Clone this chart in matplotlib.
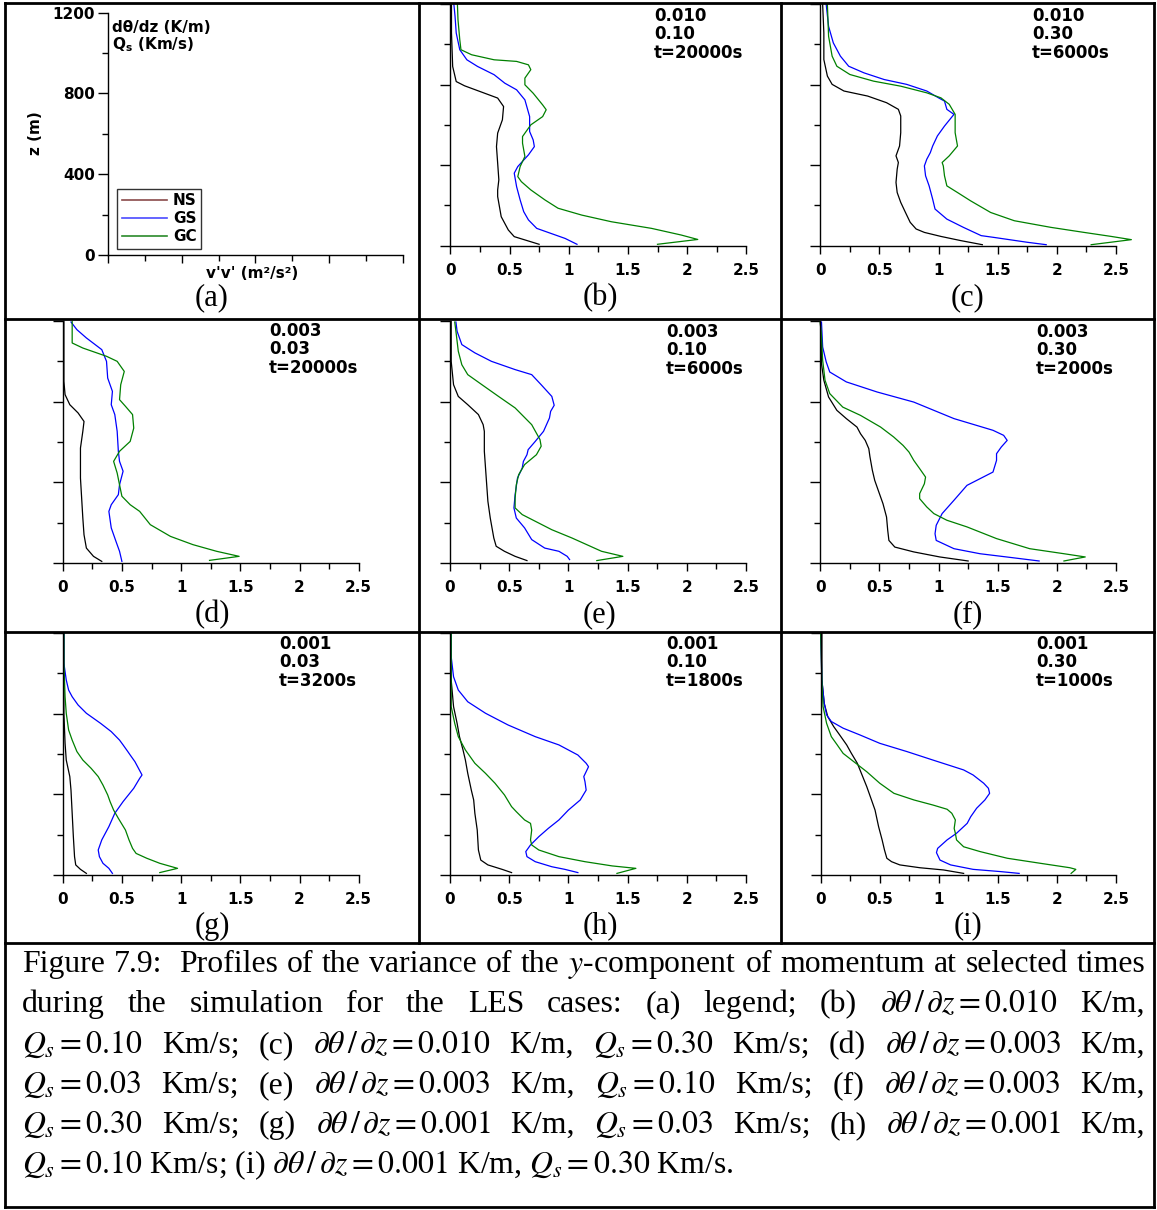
import matplotlib
matplotlib.use('Agg')
import matplotlib.pyplot as plt
import numpy as np
from matplotlib.lines import Line2D

plt.rcParams['font.family'] = ['DejaVu Sans']
plt.rcParams['font.weight'] = 'normal'
plt.rcParams['axes.linewidth'] = 1.0

# ---------------- data: (v'v' [m2/s2], z [m]) pairs, bottom to top ----------------
B_NS = [(0.75,7),(0.54,45),(0.49,78),(0.43,144),(0.40,244),(0.40,277),(0.41,327),(0.40,410),(0.39,492),
        (0.40,559),(0.44,625),(0.45,691),(0.40,733),(0.29,757),(0.12,794),(0.05,815),(0.02,890),(0.01,1056),(0.01,1200)]
B_GS = [(1.07,7),(0.97,36),(0.85,61),(0.73,86),(0.66,128),(0.62,169),(0.59,227),(0.56,293),(0.54,360),(0.57,393),
        (0.66,451),(0.71,492),(0.70,525),(0.67,567),(0.67,641),(0.63,724),(0.56,774),(0.46,807),(0.37,849),(0.23,890),
        (0.14,923),(0.08,973),(0.05,1056),(0.04,1139),(0.03,1200)]
B_GC = [(1.75,7),(2.09,31),(1.95,53),(1.70,86),(1.36,119),(1.11,152),(0.91,186),(0.80,227),(0.68,277),(0.60,318),
        (0.57,343),(0.59,393),(0.63,443),(0.61,509),(0.61,542),(0.68,600),(0.78,641),(0.81,675),(0.78,699),(0.70,757),
        (0.63,799),(0.63,832),(0.68,874),(0.66,898),(0.56,915),(0.37,923),(0.18,948),(0.09,973),(0.08,1023),(0.065,1122),(0.06,1200)]

C_NS = [(1.37,5),(1.19,25),(1.02,46),(0.88,66),(0.81,83),(0.76,116),(0.72,165),(0.68,215),(0.65,264),(0.64,314),
        (0.65,380),(0.66,413),(0.64,446),(0.67,495),(0.68,561),(0.68,644),(0.66,677),(0.56,710),(0.40,743),(0.20,768),
        (0.10,801),(0.06,842),(0.03,924),(0.03,1056),(0.02,1197)]
C_GS = [(1.91,5),(1.75,17),(1.47,41),(1.36,50),(1.21,91),(1.07,132),(0.97,182),(0.95,231),(0.92,297),(0.89,347),
        (0.88,396),(0.90,429),(0.93,462),(0.95,495),(0.99,545),(1.05,594),(1.13,652),(1.07,677),(1.05,718),(1.00,734),
        (0.90,768),(0.73,801),(0.54,825),(0.37,858),(0.24,891),(0.17,941),(0.11,1007),(0.07,1089),(0.05,1197)]
C_GC = [(2.29,5),(2.63,30),(2.46,46),(2.23,66),(1.95,91),(1.64,124),(1.44,165),(1.27,223),(1.16,264),(1.07,297),
        (1.05,347),(1.04,396),(1.03,413),(1.09,446),(1.16,495),(1.14,561),(1.14,611),(1.14,652),(1.09,702),(1.02,734),
        (0.90,759),(0.68,792),(0.45,817),(0.25,850),(0.14,891),(0.10,941),(0.07,1040),(0.06,1197)]

D_NS = [(0.33,8),(0.26,33),(0.20,74),(0.18,140),(0.17,223),(0.16,322),(0.15,421),(0.15,488),(0.15,570),(0.17,653),
        (0.18,702),(0.13,744),(0.06,785),(0.02,835),(0.01,901),(0.01,1050),(0.01,1198)]
D_GS = [(0.50,8),(0.48,58),(0.45,107),(0.41,174),(0.39,256),(0.41,289),(0.47,339),(0.48,388),(0.51,455),(0.48,504),
        (0.47,554),(0.46,653),(0.44,736),(0.41,785),(0.42,851),(0.38,917),(0.37,1000),(0.33,1058),(0.20,1116),(0.12,1157),(0.07,1195)]
D_GC = [(1.24,13),(1.49,33),(1.30,58),(1.10,91),(0.91,132),(0.74,190),(0.65,256),(0.57,289),(0.50,331),(0.48,388),
        (0.46,446),(0.43,504),(0.48,554),(0.57,603),(0.60,669),(0.59,736),(0.53,777),(0.48,810),(0.49,884),(0.52,950),
        (0.46,1000),(0.37,1025),(0.17,1066),(0.08,1091),(0.08,1149),(0.08,1198)]

E_NS = [(0.65,12),(0.55,33),(0.46,58),(0.39,83),(0.37,124),(0.34,223),(0.32,306),(0.31,388),(0.30,471),(0.29,554),
        (0.29,653),(0.28,686),(0.24,736),(0.15,785),(0.07,826),(0.03,884),(0.01,1000),(0.01,1198)]
E_GS = [(1.01,17),(0.99,33),(0.92,58),(0.80,74),(0.69,116),(0.63,174),(0.56,223),(0.54,273),(0.55,339),(0.57,421),
        (0.61,471),(0.62,504),(0.65,537),(0.66,562),(0.72,603),(0.79,653),(0.84,719),(0.85,752),(0.88,782),(0.86,826),
        (0.77,884),(0.69,934),(0.55,959),(0.35,1000),(0.21,1042),(0.10,1083),(0.06,1149),(0.05,1195)]
E_GC = [(1.24,12),(1.46,33),(1.28,58),(1.03,124),(0.86,165),(0.72,207),(0.61,240),(0.55,273),(0.55,322),(0.56,388),
        (0.58,438),(0.63,488),(0.73,537),(0.77,579),(0.76,612),(0.69,686),(0.55,769),(0.41,826),(0.27,884),(0.15,934),
        (0.10,983),(0.07,1050),(0.05,1149),(0.04,1195)]

F_NS = [(1.25,10),(1.01,30),(0.79,55),(0.63,79),(0.58,112),(0.57,162),(0.56,228),(0.53,294),(0.49,360),(0.46,410),
        (0.44,460),(0.42,526),(0.41,567),(0.38,608),(0.34,641),(0.31,674),(0.22,716),(0.14,757),(0.07,823),(0.03,906),
        (0.01,988),(0.01,1104),(0.00,1195)]
F_GS = [(1.85,10),(1.63,26),(1.35,46),(1.13,71),(0.98,112),(0.97,145),(0.98,187),(1.03,245),(1.13,311),(1.24,385),
        (1.35,418),(1.46,451),(1.49,509),(1.49,542),(1.53,575),(1.58,608),(1.55,633),(1.46,658),(1.13,716),(0.79,798),
        (0.48,848),(0.22,898),(0.08,947),(0.05,997),(0.02,1071),(0.01,1195)]
F_GC = [(2.06,10),(2.24,30),(2.06,46),(1.77,71),(1.49,121),(1.24,179),(1.07,212),(0.96,245),(0.90,278),(0.84,319),
        (0.84,344),(0.88,393),(0.89,426),(0.84,468),(0.79,509),(0.75,550),(0.70,583),(0.62,625),(0.51,674),(0.34,732),
        (0.19,773),(0.08,840),(0.04,906),(0.02,1005),(0.01,1120),(0.00,1195)]

G_NS = [(0.20,8),(0.15,28),(0.11,50),(0.10,91),(0.09,190),(0.08,306),(0.07,421),(0.06,488),(0.03,570),(0.02,653),
        (0.01,802),(0.01,1198)]
G_GS = [(0.42,8),(0.39,33),(0.34,58),(0.31,91),(0.30,124),(0.33,174),(0.39,240),(0.44,306),(0.51,364),(0.60,430),
        (0.65,479),(0.67,496),(0.64,529),(0.61,562),(0.57,595),(0.55,612),(0.51,645),(0.48,669),(0.41,711),(0.32,752),
        (0.20,802),(0.13,843),(0.08,884),(0.05,917),(0.03,967),(0.01,1050),(0.01,1198)]
G_GC = [(0.82,12),(0.97,33),(0.82,58),(0.71,83),(0.62,107),(0.59,132),(0.56,174),(0.53,223),(0.47,281),(0.43,322),
        (0.40,364),(0.38,397),(0.34,446),(0.30,488),(0.24,529),(0.17,570),(0.12,612),(0.08,669),(0.05,719),(0.03,802),
        (0.02,884),(0.01,1050),(0.01,1198)]

H_NS = [(0.52,12),(0.44,28),(0.32,50),(0.26,74),(0.24,124),(0.23,223),(0.21,306),(0.20,372),(0.18,421),(0.15,504),
        (0.13,570),(0.11,620),(0.08,686),(0.06,752),(0.03,835),(0.01,967),(0.01,1198)]
H_GS = [(1.08,12),(0.97,28),(0.86,41),(0.72,66),(0.65,91),(0.64,116),(0.68,149),(0.75,190),(0.83,231),(0.92,273),
        (1.00,322),(1.10,372),(1.15,421),(1.14,463),(1.13,488),(1.17,537),(1.15,554),(1.08,595),(0.92,645),(0.72,686),
        (0.49,744),(0.30,802),(0.15,859),(0.07,917),(0.03,983),(0.01,1083),(0.01,1198)]
H_GC = [(1.41,8),(1.57,33),(1.37,45),(1.14,66),(0.92,91),(0.75,124),(0.69,149),(0.68,174),(0.69,223),(0.68,256),
        (0.63,273),(0.56,314),(0.52,339),(0.46,397),(0.38,455),(0.30,504),(0.21,554),(0.13,620),(0.07,686),(0.04,752),
        (0.01,835),(0.01,967),(0.01,1198)]

I_NS = [(1.21,8),(1.04,25),(0.84,36),(0.67,50),(0.60,66),(0.56,83),(0.54,124),(0.52,174),(0.49,240),(0.46,322),
        (0.43,372),(0.39,438),(0.35,496),(0.31,554),(0.26,603),(0.22,645),(0.16,695),(0.11,736),(0.06,785),(0.03,851),
        (0.01,967),(0.01,1198)]
I_GS = [(1.68,8),(1.52,17),(1.29,28),(1.10,50),(1.01,74),(0.98,111),(0.99,132),(1.07,174),(1.15,207),(1.24,256),
        (1.27,289),(1.32,331),(1.39,372),(1.43,405),(1.42,430),(1.38,455),(1.29,496),(1.21,521),(0.95,570),(0.73,612),
        (0.50,653),(0.33,695),(0.19,728),(0.09,761),(0.05,794),(0.03,851),(0.01,967),(0.00,1198)]
I_GC = [(2.12,8),(2.16,28),(2.11,36),(1.86,58),(1.58,83),(1.35,116),(1.21,140),(1.15,174),(1.14,207),(1.13,231),
        (1.14,273),(1.11,306),(1.07,326),(0.95,347),(0.79,372),(0.62,405),(0.50,455),(0.39,512),(0.28,562),(0.19,603),
        (0.14,645),(0.09,686),(0.05,752),(0.02,835),(0.01,967),(0.00,1198)]

PANEL_IDS = ['b', 'c', 'd', 'e', 'f', 'g', 'h', 'i']
NS_SERIES = [B_NS, C_NS, D_NS, E_NS, F_NS, G_NS, H_NS, I_NS]
GS_SERIES = [B_GS, C_GS, D_GS, E_GS, F_GS, G_GS, H_GS, I_GS]
GC_SERIES = [B_GC, C_GC, D_GC, E_GC, F_GC, G_GC, H_GC, I_GC]
GRADIENTS = ['0.010', '0.010', '0.003', '0.003', '0.003', '0.001', '0.001', '0.001']
FLUXES = ['0.10', '0.30', '0.03', '0.10', '0.30', '0.03', '0.10', '0.30']
TIMES = ['t=20000s', 't=6000s', 't=20000s', 't=6000s', 't=2000s', 't=3200s', 't=1800s', 't=1000s']

SERIES_NAMES = ['NS', 'GS', 'GC']
X_TICKS = [0, 0.5, 1, 1.5, 2, 2.5]
X_TICK_LABELS = ['0', '0.5', '1', '1.5', '2', '2.5']
Z_TICKS = [0, 400, 800, 1200]
Z_TICK_LABELS = ['0', '400', '800', '1200']

# ---------------- styling / layout ----------------
COLORS = {'NS': 'black', 'GS': '#0000ff', 'GC': '#008000'}
LEGEND_COLORS = {'NS': '#8a4a4a', 'GS': '#4a4aff', 'GC': '#2a8a2a'}

W, H = 1157, 1210
fig = plt.figure(figsize=(W / 100, H / 100), dpi=100)

def fx(x):
    return x / W

def fy(y):
    return 1 - y / H

def add_ax(x0, x1, ytop, ybot):
    return fig.add_axes([fx(x0), fy(ybot), (x1 - x0) / W, (ybot - ytop) / H])

BOXES = {
    'a': (108, 403, 12.7, 255),
    'b': (450.3, 746.3, 4, 245.7),
    'c': (820.3, 1116.0, 4, 245.7),
    'd': (62.7, 358.7, 321, 563),
    'e': (450.0, 746.0, 321, 563),
    'f': (820.3, 1116.0, 321, 563),
    'g': (62.7, 358.7, 633, 875),
    'h': (450.0, 746.0, 633, 875),
    'i': (820.7, 1116.0, 633, 875),
}
ANNOT_POS = {'b': (654, 16), 'c': (1032, 16), 'd': (269, 331), 'e': (666, 332), 'f': (1036, 332),
             'g': (279, 644), 'h': (666, 644), 'i': (1036, 644)}

def style_axes(ax, xmax, xlabels):
    for s in ['top', 'right']:
        ax.spines[s].set_visible(False)
    ax.set_ylim(0, 1200)
    ax.set_xlim(0, xmax)
    ax.set_yticks(Z_TICKS)
    ax.set_yticks([200, 600, 1000], minor=True)
    if xmax == 2.5:
        ax.set_xticks(X_TICKS)
        ax.set_xticks([0.25, 0.75, 1.25, 1.75, 2.25], minor=True)
    else:
        ax.set_xticks([0, 0.5, 1, 1.5, 2])
        ax.set_xticks([0.25, 0.75, 1.25, 1.75], minor=True)
    if xlabels:
        ax.set_xticklabels(X_TICK_LABELS, fontweight='bold')
    else:
        ax.set_xticklabels([])
    ax.tick_params(axis='x', which='major', direction='out', length=6, width=1, pad=6.5, labelsize=11)
    ax.tick_params(axis='x', which='minor', direction='out', length=4, width=1)
    ax.tick_params(axis='y', which='major', direction='out', length=7.5, width=1, pad=2, labelsize=11)
    ax.tick_params(axis='y', which='minor', direction='out', length=4, width=1)
    ax.patch.set_visible(False)

# panel (a): legend panel
ax_a = add_ax(*BOXES['a'])
style_axes(ax_a, 2.0, False)
ax_a.set_yticklabels(Z_TICK_LABELS, fontweight='bold')
handles = [Line2D([], [], color=LEGEND_COLORS[n], lw=1.2) for n in SERIES_NAMES]
leg = ax_a.legend(handles, SERIES_NAMES, loc='lower left', bbox_to_anchor=(fx(117), fy(249)),
                  bbox_transform=fig.transFigure, borderaxespad=0, frameon=True, fancybox=False,
                  handlelength=3.0, handletextpad=0.35, labelspacing=0.2, borderpad=0.3,
                  prop={'weight': 'bold', 'size': 11})
leg.get_frame().set_edgecolor('black')
leg.get_frame().set_linewidth(1.0)
fig.text(fx(35), fy(133), 'z (m)', rotation=90, ha='center', va='center', fontsize=11, fontweight='bold')
fig.text(fx(252), fy(273), "v'v' (m\u00b2/s\u00b2)", ha='center', va='center', fontsize=11, fontweight='bold')
fig.text(fx(112), fy(27), 'd\u03b8/dz (K/m)', ha='left', va='center', fontsize=11, fontweight='bold')
fig.text(fx(112), fy(45), r'Q$_\mathbf{s}$ (Km/s)', ha='left', va='center', fontsize=11, fontweight='bold',
         math_fontfamily='dejavusans')

# data panels
for k, pid in enumerate(PANEL_IDS):
    ax = add_ax(*BOXES[pid])
    style_axes(ax, 2.5, True)
    ax.set_yticklabels([])
    for name, series in zip(SERIES_NAMES, [NS_SERIES[k], GS_SERIES[k], GC_SERIES[k]]):
        v = [p[0] for p in series]
        z = [p[1] for p in series]
        ax.plot(v, z, color=COLORS[name], lw=0.9, clip_on=False)
    x0, y0 = ANNOT_POS[pid]
    for j, s in enumerate([GRADIENTS[k], FLUXES[k], TIMES[k]]):
        fig.text(fx(x0), fy(y0 + 18.3 * j), s, ha='left', va='center', fontsize=12, fontweight='bold')

# panel letters
LETTER_POS = {'a': (212, 298), 'b': (600, 298), 'c': (968, 298),
              'd': (212, 615), 'e': (600, 615), 'f': (968, 615),
              'g': (212, 926), 'h': (600, 926), 'i': (968, 926)}
for pid, (x, y) in LETTER_POS.items():
    fig.text(fx(x), fy(y), '(%s)' % pid, ha='center', va='center', fontsize=22,
             family='Liberation Serif', fontweight='normal')

# table borders
BORDER_LW = 2.0
for y in [3, 319, 632, 943, 1207]:
    fig.add_artist(Line2D([fx(5), fx(1154)], [fy(y), fy(y)], color='black', lw=BORDER_LW))
for x in [5, 1154]:
    fig.add_artist(Line2D([fx(x), fx(x)], [fy(3), fy(1207)], color='black', lw=BORDER_LW))
for x in [419, 781]:
    fig.add_artist(Line2D([fx(x), fx(x)], [fy(3), fy(943)], color='black', lw=BORDER_LW))

# ---------------- caption (justified) ----------------
PD = r'\partial\theta\,/\,\partial z = '
CAPTION_LINES = [
    ['Figure', '7.9:', 'Profiles', 'of', 'the', 'variance', 'of', 'the', '$y$-component', 'of', 'momentum',
     'at', 'selected', 'times'],
    ['during', 'the', 'simulation', 'for', 'the', 'LES', 'cases:', '(a)', 'legend;', '(b)', '$' + PD + '0.010$', 'K/m,'],
    ['$Q_s = 0.10$', 'Km/s;', '(c)', '$' + PD + '0.010$', 'K/m,', '$Q_s = 0.30$', 'Km/s;', '(d)', '$' + PD + '0.003$', 'K/m,'],
    ['$Q_s = 0.03$', 'Km/s;', '(e)', '$' + PD + '0.003$', 'K/m,', '$Q_s = 0.10$', 'Km/s;', '(f)', '$' + PD + '0.003$', 'K/m,'],
    ['$Q_s = 0.30$', 'Km/s;', '(g)', '$' + PD + '0.001$', 'K/m,', '$Q_s = 0.03$', 'Km/s;', '(h)', '$' + PD + '0.001$', 'K/m,'],
]
LAST_LINE = r'$Q_s = 0.10$ Km/s; (i) $' + PD + r'0.001$ K/m, $Q_s = 0.30$ Km/s.'
CAP_BASELINES = [972, 1012, 1053, 1093, 1133, 1173]
CAP_LEFT, CAP_RIGHT = 22, 1145
CAP_KW = dict(family='Liberation Serif', fontweight='normal', math_fontfamily='stix')

renderer = fig.canvas.get_renderer()

def tw(s, fs):
    t = fig.text(0, 0, s, fontsize=fs, **CAP_KW)
    w = t.get_window_extent(renderer=renderer).width
    t.remove()
    return w

base_fs = 20
sp = tw('a a', base_fs) - tw('aa', base_fs)
nat = sum(tw(s, base_fs) for s in CAPTION_LINES[0]) + sp * (len(CAPTION_LINES[0]) + 1)
cap_fs = base_fs * (CAP_RIGHT - CAP_LEFT) / nat

for line, yb in zip(CAPTION_LINES, CAP_BASELINES):
    widths = [tw(s, cap_fs) for s in line]
    weights = [1.0] * (len(line) - 1)
    if line[0] == 'Figure':
        weights[1] = 2.0
    gap_unit = (CAP_RIGHT - CAP_LEFT - sum(widths)) / sum(weights)
    x = CAP_LEFT
    for i, (s, w) in enumerate(zip(line, widths)):
        fig.text(fx(x), fy(yb), s, ha='left', va='baseline', fontsize=cap_fs, **CAP_KW)
        if i < len(weights):
            x += w + gap_unit * weights[i]
fig.text(fx(CAP_LEFT), fy(CAP_BASELINES[-1]), LAST_LINE, ha='left', va='baseline', fontsize=cap_fs, **CAP_KW)

fig.savefig('out.png', dpi=100)
